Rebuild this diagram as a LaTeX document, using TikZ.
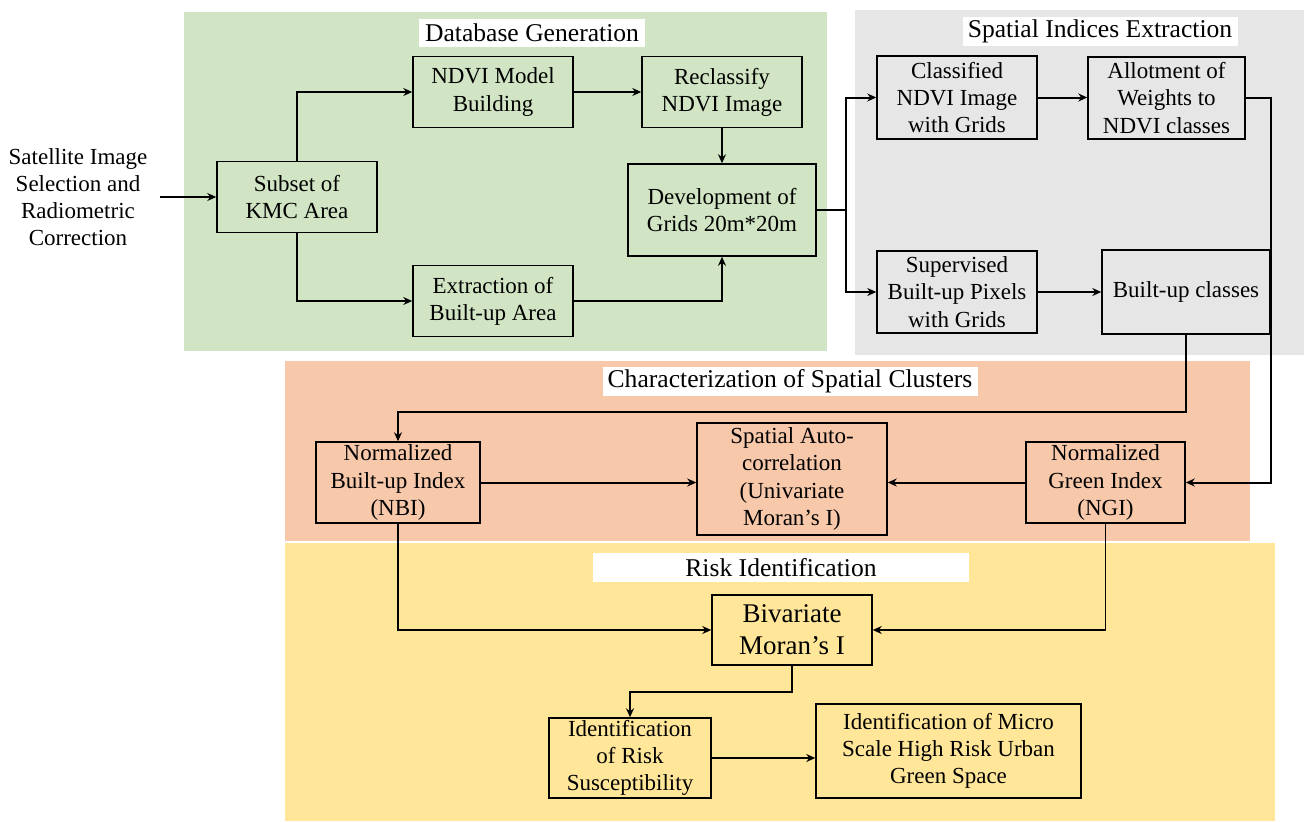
\documentclass[tikz,border=0pt]{standalone}
\usepackage{fontspec}
\setmainfont{Liberation Serif}
\usetikzlibrary{
  arrows.meta,
  calc
}
\definecolor{inkC}{HTML}{000000}
\definecolor{dbC}{HTML}{D1E5C4}
\definecolor{sieC}{HTML}{E7E6E6}
\definecolor{clusC}{HTML}{F7C8AA}
\definecolor{riskC}{HTML}{FFE699}

\begin{document}
\begin{tikzpicture}[
  x=0.5pt,
  y=-0.5pt,
  line join=miter,
  box/.style={draw=inkC, line width=0.75pt, align=center, inner sep=0pt,
    font=\fontsize{11.5}{13.6}\selectfont},
  title/.style={fill=white, inner sep=0pt, align=center,
    font=\fontsize{12.8}{14}\selectfont},
  flow/.style={draw=inkC, line width=1pt, -{Stealth[length=4.5pt, width=4pt]}},
  thin flow/.style={flow, line width=0.65pt}
]

\useasboundingbox (0,0) rectangle (1304,821);

% Panels behind the flow.
\fill[dbC] (184,12) rectangle (827,351);
\fill[sieC] (855,10) rectangle (1304,355);
\fill[clusC] (285,361) rectangle (1250,541);
\fill[riskC] (285,543) rectangle (1275,821);

\node[title, minimum width=113pt, minimum height=14pt] (tDb) at (532,33) {Database Generation};
\node[title, minimum width=137.5pt, minimum height=14.5pt] (tSie) at (1100,31.5) {Spatial Indices Extraction};
\node[title, minimum width=187.5pt, minimum height=14.5pt] (tClus) at (790,381.5) {Characterization of Spatial Clusters};
\node[title, minimum width=188pt, minimum height=14.5pt] (tRisk) at (781,567.5) {Risk Identification};

% Database generation.
\node[align=center, font=\fontsize{11.5}{13.6}\selectfont, inner sep=6pt] (sat) at (78,197)
  {Satellite Image\\Selection and\\Radiometric\\Correction};
\node[box, fill=dbC, minimum width=80pt, minimum height=35.5pt] (subset) at (297,197) {Subset of\\KMC Area};
\node[box, fill=dbC, minimum width=80pt, minimum height=35.5pt] (ndvi) at (493,92) {NDVI Model\\Building};
\node[box, fill=dbC, minimum width=80pt, minimum height=35.5pt] (reclass) at (722,92) {Reclassify\\NDVI Image};
\node[box, fill=dbC, minimum width=94pt, minimum height=46pt] (devel) at (722,210) {Development of\\Grids 20m*20m};
\node[box, fill=dbC, minimum width=80pt, minimum height=35.5pt] (extract) at (493,301) {Extraction of\\Built-up Area};

% Spatial indices extraction.
\node[box, fill=sieC, minimum width=80pt, minimum height=41.5pt] (classified) at (957,97.5) {Classified\\NDVI Image\\with Grids};
\node[box, fill=sieC, minimum width=78.5pt, minimum height=41pt] (allot) at (1166.5,98) {Allotment of\\Weights to\\NDVI classes};
\node[box, fill=sieC, minimum width=80pt, minimum height=41pt] (superv) at (957,292) {Supervised\\Built-up Pixels\\with Grids};
\node[box, fill=sieC, minimum width=84pt, minimum height=42pt] (builtup) at (1186,292) {Built-up classes};

% Spatial clusters.
\node[box, fill=clusC, minimum width=82pt, minimum height=40.5pt] (nbi) at (398,482.5) {Normalized\\Built-up Index\\(NBI)};
\node[box, fill=clusC, minimum width=95pt, minimum height=56pt] (auto) at (792,479) {Spatial Auto-\\correlation\\(Univariate\\Moran’s I)};
\node[box, fill=clusC, minimum width=79.5pt, minimum height=40.5pt] (ngi) at (1105.5,482.5) {Normalized\\Green Index\\(NGI)};

% Risk identification.
\node[box, fill=riskC, minimum width=80pt, minimum height=35pt, font=\fontsize{13.5}{16}\selectfont] (biv) at (792,630) {Bivariate\\Moran’s I};
\node[box, fill=riskC, minimum width=81pt, minimum height=40pt] (riskid) at (630,758) {Identification\\of Risk\\Susceptibility};
\node[box, fill=riskC, minimum width=132.5pt, minimum height=47pt] (micro) at (948.5,751) {Identification of Micro\\Scale High Risk Urban\\Green Space};

% Bend points.
\coordinate (split) at (846,210);
\coordinate (railR) at (1271,482.5);
\coordinate (bendB) at (398,412);
\coordinate (bendR) at (630,692);

% Connectors.
\draw[flow, line width=1.4pt] (sat.east) -- (subset.west);
\draw[flow] (subset.north) |- (ndvi.west);
\draw[flow] (subset.south) |- (extract.west);
\draw[flow] (ndvi) -- (reclass);
\draw[flow] (reclass) -- (devel);
\draw[flow] (extract.east) -| (devel.south);
\draw[draw=inkC, line width=1pt] (devel.east) -- (split);
\draw[flow] (split) |- (classified.west);
\draw[flow] (split) |- (superv.west);
\draw[flow] (classified.east) -- (classified.east -| allot.west);
\draw[flow] (superv) -- (builtup);
\draw[flow] (allot.east) -| (railR) -- (ngi.east);
\draw[flow] (builtup.south) |- (bendB) -- (nbi.north);
\draw[flow] (nbi.east) -- (nbi.east -| auto.west);
\draw[flow] (ngi.west) -- (ngi.west -| auto.east);
\draw[thin flow] (nbi.south) |- (biv.west);
\draw[thin flow] (ngi.south) |- (biv.east);
\draw[flow] (biv.south) |- (bendR) -- (riskid.north);
\draw[flow, line width=1.4pt] (riskid.east) -- (riskid.east -| micro.west);

\end{tikzpicture}
\end{document}
